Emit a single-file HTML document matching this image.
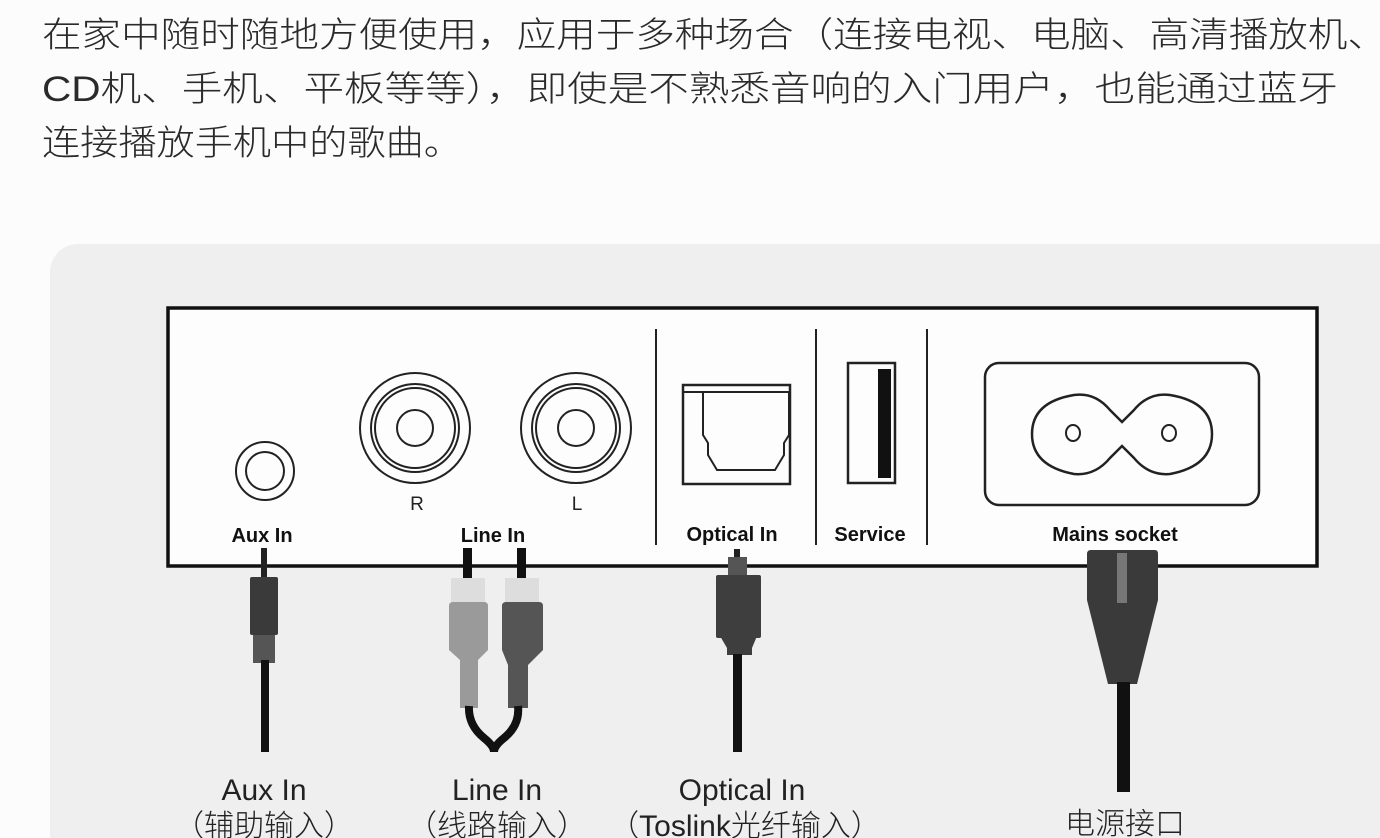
<!DOCTYPE html>
<html><head><meta charset="utf-8"><style>
html,body{margin:0;padding:0;background:#fdfdfd;width:1380px;height:838px;overflow:hidden}
svg{display:block}
</style></head><body>
<svg width="1380" height="838" viewBox="0 0 1380 838" xmlns="http://www.w3.org/2000/svg">
<rect x="0" y="0" width="1380" height="838" fill="#fcfcfc"/>
<g font-family="'Liberation Sans','Noto Sans CJK SC',sans-serif" font-size="35" fill="#2a2a2a" font-weight="300">
<text x="42" y="47" textLength="1345" lengthAdjust="spacingAndGlyphs">在家中随时随地方便使用，应用于多种场合（连接电视、电脑、高清播放机、</text>
<text x="42" y="101" textLength="1296" lengthAdjust="spacingAndGlyphs">CD机、手机、平板等等），即使是不熟悉音响的入门用户，也能通过蓝牙</text>
<text x="42" y="155" textLength="420" lengthAdjust="spacingAndGlyphs">连接播放手机中的歌曲。</text>
</g>
<rect x="50" y="244" width="1400" height="700" rx="28" fill="#efefef"/>
<rect x="168" y="308" width="1149" height="258" fill="#fdfdfd" stroke="#111" stroke-width="3.5"/>
<g fill="none" stroke="#222" stroke-width="2">
<circle cx="265" cy="471" r="29"/><circle cx="265" cy="471" r="19"/>
<circle cx="415" cy="428" r="55"/><circle cx="415" cy="428" r="44"/><circle cx="415" cy="428" r="40"/><circle cx="415" cy="428" r="18"/>
<circle cx="576" cy="428" r="55"/><circle cx="576" cy="428" r="44"/><circle cx="576" cy="428" r="40"/><circle cx="576" cy="428" r="18"/>
<line x1="656" y1="329" x2="656" y2="545"/><line x1="816" y1="329" x2="816" y2="545"/><line x1="927" y1="329" x2="927" y2="545"/>
<rect x="683" y="385" width="107" height="99" stroke-width="2.5"/>
<line x1="683" y1="392" x2="790" y2="392"/>
<path d="M703 392 L703 435 L708 443 L708 455 L717 470 L775 470 L784 455 L784 443 L789 435 L789 392"/>
<rect x="848" y="363" width="47" height="120" stroke-width="2.5"/>
<rect x="985" y="363" width="274" height="142" rx="14" stroke-width="2.5"/>
<path d="M1074 395 Q1095 392 1110 410 L1122 422 L1134 410 Q1149 392 1170 395 Q1212 402 1212 434 Q1212 466 1170 474 Q1149 476 1134 458 L1122 446 L1110 458 Q1095 476 1074 474 Q1032 466 1032 434 Q1032 402 1074 395 Z" stroke-width="2.5"/>
<ellipse cx="1073" cy="433" rx="7" ry="8"/><ellipse cx="1169" cy="433" rx="7" ry="8"/>
</g>
<rect x="878" y="369" width="13" height="109" fill="#111"/>
<g font-family="'Liberation Sans',sans-serif" font-weight="bold" font-size="20" fill="#111" text-anchor="middle">
<text x="262" y="542">Aux In</text>
<text x="493" y="542">Line In</text>
<text x="732" y="541">Optical In</text>
<text x="870" y="541">Service</text>
<text x="1115" y="541">Mains socket</text>
</g>
<g font-family="'Liberation Sans',sans-serif" font-size="19" fill="#222" text-anchor="middle">
<text x="417" y="510">R</text><text x="577" y="510">L</text>
</g>
<rect x="261" y="548" width="6" height="32" fill="#222"/>
<rect x="250" y="577" width="28" height="58" rx="2" fill="#3a3a3a"/>
<rect x="253" y="635" width="22" height="28" fill="#555"/>
<rect x="261" y="660" width="8" height="92" fill="#111"/>
<rect x="463" y="548" width="9" height="32" fill="#111"/>
<rect x="517" y="548" width="9" height="32" fill="#111"/>
<rect x="451" y="578" width="34" height="26" fill="#ddd"/>
<rect x="505" y="578" width="34" height="26" fill="#ddd"/>
<path d="M449 606 Q449 602 453 602 L484 602 Q488 602 488 606 L488 650 L478 660 L478 708 L460 708 L460 660 L449 650 Z" fill="#9a9a9a"/>
<path d="M502 606 Q502 602 506 602 L539 602 Q543 602 543 606 L543 650 L528 665 L528 708 L508 708 L508 665 L502 650 Z" fill="#555"/>
<path d="M469 706 Q468 725 484 738 Q494 746 494 752 Q494 746 504 738 Q520 725 518 706" fill="none" stroke="#111" stroke-width="8"/>
<rect x="734" y="549" width="6" height="10" fill="#222"/>
<rect x="728" y="557" width="19" height="20" fill="#555"/>
<rect x="716" y="575" width="45" height="63" rx="2" fill="#3e3e3e"/>
<path d="M720 636 L757 636 L752 648 L752 655 L727 655 L727 648 Z" fill="#3e3e3e"/>
<rect x="733" y="654" width="9" height="98" fill="#111"/>
<path d="M1091 550 L1155 550 Q1158 550 1158 554 L1158 600 L1137 684 L1108 684 L1087 600 L1087 554 Q1087 550 1091 550 Z" fill="#3a3a3a"/>
<rect x="1117" y="553" width="10" height="50" fill="#777"/>
<rect x="1117" y="682" width="13" height="110" fill="#111"/>
<g font-family="'Liberation Sans','Noto Sans CJK SC',sans-serif" font-size="30" fill="#222" text-anchor="middle" font-weight="300">
<text x="264" y="800">Aux In</text>
<text x="264" y="836">（辅助输入）</text>
<text x="497" y="800">Line In</text>
<text x="497" y="836">（线路输入）</text>
<text x="742" y="800">Optical In</text>
<text x="745" y="836">（Toslink光纤输入）</text>
<text x="1125" y="834">电源接口</text>
</g>
</svg>
</body></html>
